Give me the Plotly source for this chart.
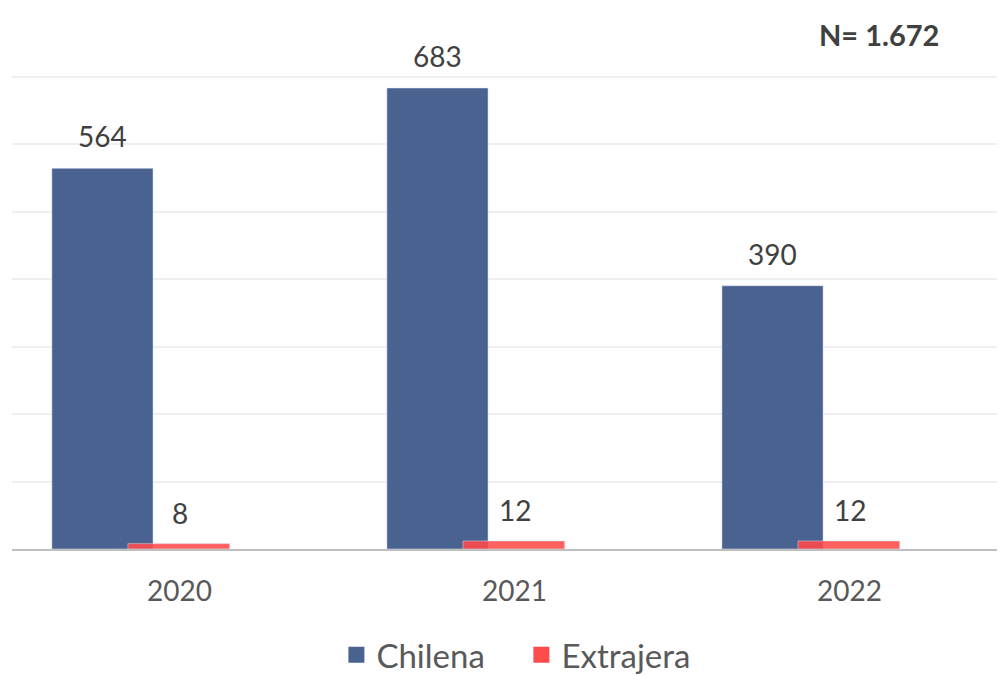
import plotly.graph_objects as go

years = ["2020", "2021", "2022"]
chilena = [564, 683, 390]
extranjera = [8, 12, 12]
series_names = ["Chilena", "Extrajera"]
total_label = "N= 1.672"

blue = "#4A6290"
red = "#FF4B4B"
font_family = "Lato, 'Open Sans', sans-serif"

fig = go.Figure()

# bars (Excel-like overlap: red bar sits centred on the tick, blue to the left)
fig.add_trace(go.Bar(x=years, y=chilena, name=series_names[0], marker_color=blue,
                     offset=-0.381, width=0.302, showlegend=False))
fig.add_trace(go.Bar(x=years, y=extranjera, name=series_names[1], marker_color=red,
                     marker_opacity=0.88, offset=-0.154, width=0.304, showlegend=False))

# legend entries with bigger squares
for name, col in zip(series_names, [blue, red]):
    fig.add_trace(go.Scatter(x=[None], y=[None], mode="markers", name=name,
                             marker=dict(symbol="square", size=16, color=col)))

# data labels (category index used for x)
for i, v in enumerate(chilena):
    fig.add_annotation(x=i, y=v, xref="x", yref="y", text=str(v), showarrow=False,
                       yanchor="bottom", yshift=13, xshift=-77,
                       font=dict(size=28, color="#404040", family=font_family))
for i, v in enumerate(extranjera):
    fig.add_annotation(x=i, y=v, xref="x", yref="y", text=str(v), showarrow=False,
                       yanchor="bottom", yshift=12, xshift=0,
                       font=dict(size=28, color="#404040", family=font_family))

fig.add_annotation(x=0.873, y=0.952, xref="paper", yref="paper", text="<b>" + total_label + "</b>",
                   showarrow=False, xanchor="center", yanchor="middle",
                   font=dict(size=29, color="#404040", family=font_family))

# page body has an 8px margin, so the figure is sized to the remaining area
fig.update_layout(
    width=997, height=667,
    margin=dict(l=4, r=0, t=1, b=126, autoexpand=False),
    plot_bgcolor="white", paper_bgcolor="white",
    barmode="overlay",
    font=dict(family=font_family, color="#595959"),
    legend=dict(orientation="h", x=0.513, xanchor="center", y=-0.196, yanchor="middle",
                font=dict(size=33, color="#595959"), itemwidth=30,
                entrywidth=140, tracegroupgap=0),
    xaxis=dict(type="category", range=[-0.5, 2.464], showgrid=False,
               showline=True, linecolor="#BFBFBF", linewidth=2,
               ticks="", ticklabelstandoff=16,
               tickfont=dict(size=28, color="#595959")),
    yaxis=dict(range=[0, 800], dtick=100, showticklabels=False, zeroline=False,
               showgrid=True, gridcolor="#EFEFEF", gridwidth=2),
)

fig.write_html("out.html")
